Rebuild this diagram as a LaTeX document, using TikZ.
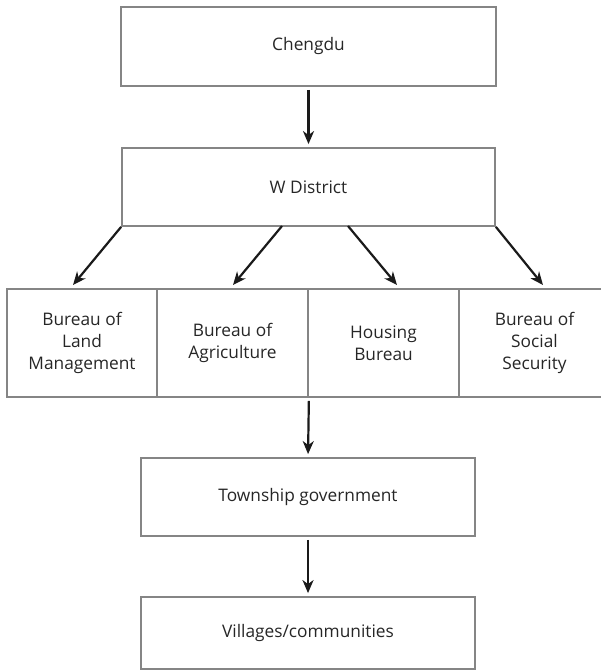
\documentclass[tikz,border=0pt]{standalone}
\usepackage{fontspec}
\setmainfont{Open Sans}
\usetikzlibrary{arrows.meta}
\definecolor{boxgray}{HTML}{858585}
\definecolor{arrowink}{HTML}{1A1A1A}
\tikzset{
  box/.style={draw=boxgray, line width=1.8pt, rectangle, inner sep=0pt, align=center,
    font=\fontsize{17.3}{22}\selectfont, text=black!85},
  conn/.style={draw=arrowink, line width=2.2pt,
    -{Stealth[length=13pt,width=11pt,inset=4pt]}},
}
\begin{document}
\begin{tikzpicture}[x=1pt,y=-1pt]
\useasboundingbox (0,0) rectangle (601,672);
\begin{scope}
\clip (0,0) rectangle (601,672);
\node[box, minimum width=375pt, minimum height=79pt] (chengdu) at (308.5,46.5) {Chengdu};
\node[box, minimum width=373pt, minimum height=78pt] (wd) at (308.5,187) {W District};
\node[box, minimum width=150pt, minimum height=108pt] (b1) at (82,343) {Bureau of\\Land\\Management};
\node[box, minimum width=151pt, minimum height=108pt] (b2) at (232.5,343) {Bureau of\\Agriculture};
\node[box, minimum width=151pt, minimum height=108pt] (b3) at (383.5,343) {Housing\\Bureau};
\node[box, minimum width=151pt, minimum height=108pt] (b4) at (534.5,343) {Bureau of\\Social\\Security};
\node[box, minimum width=334pt, minimum height=78pt] (town) at (308,497) {Township government};
\node[box, minimum width=334pt, minimum height=72pt] (vill) at (308,633) {Villages/communities};
\end{scope}
\coordinate (s2) at (282,226);
\coordinate (s3) at (348,226);
\coordinate (t1) at (73,285);
\coordinate (t2) at (233,285);
\coordinate (t3) at (397,285);
\coordinate (t4) at (543,285);
\draw[conn, shorten <=3pt, shorten >=3pt] (chengdu.south) -- (wd.north);
\draw[conn] (wd.south west) -- (t1);
\draw[conn] (s2) -- (t2);
\draw[conn] (s3) -- (t3);
\draw[conn] (wd.south east) -- (t4);
\draw[conn, shorten <=3pt, shorten >=3pt] (b2.south east) -- (town.north);
\draw[conn, shorten <=3pt, shorten >=3pt] (town.south) -- (vill.north);
\end{tikzpicture}
\end{document}
